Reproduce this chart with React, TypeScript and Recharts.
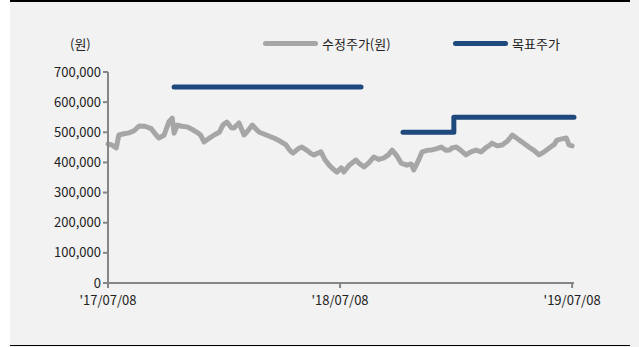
import { LineChart, Line, XAxis, YAxis, Legend } from 'recharts'

// days since 2017-07-08
const PRICE_DAYS = [
  0, 6, 13, 17, 25, 33, 41, 49, 58, 68, 76, 80, 88, 96, 101, 104, 109, 116, 124, 132,
  140, 146, 151, 159, 167, 175, 181, 187, 194, 198, 206, 214, 220, 227, 233, 238, 249, 256, 261, 271,
  280, 286, 291, 299, 305, 313, 319, 324, 335, 341, 348, 354, 360, 367, 371, 379, 390, 396, 403, 411,
  418, 426, 434, 441, 447, 455, 461, 470, 477, 481, 488, 494, 502, 508, 516, 524, 532, 537, 541, 548,
  555, 563, 571, 579, 587, 595, 599, 604, 612, 620, 628, 636, 642, 647, 655, 662, 670, 678, 686, 694,
  702, 706, 714, 721, 725, 730,
]
const PRICES = [
  461000, 458000, 448000, 491000, 495000, 498000, 505000, 521000, 520000, 512000, 490000, 481000, 490000, 535000, 547000, 497000, 524000, 520000, 518000, 510000,
  500000, 490000, 468000, 480000, 491000, 500000, 525000, 534000, 515000, 514000, 531000, 491000, 505000, 524000, 510000, 500000, 491000, 485000, 481000, 470000,
  458000, 440000, 431000, 445000, 451000, 440000, 430000, 425000, 435000, 410000, 391000, 378000, 368000, 382000, 368000, 390000, 408000, 395000, 385000, 400000,
  418000, 410000, 415000, 425000, 441000, 420000, 398000, 391000, 395000, 375000, 405000, 435000, 440000, 441000, 445000, 451000, 440000, 441000, 448000, 451000,
  440000, 425000, 435000, 441000, 435000, 450000, 455000, 464000, 455000, 458000, 470000, 491000, 482000, 474000, 462000, 451000, 440000, 425000, 435000, 448000,
  460000, 474000, 478000, 481000, 458000, 455000,
]

// target price steps
const TARGET_DAYS = [104, 398, null, 464, 544, 544, 733]
const TARGETS = [650000, 650000, null, 500000, 500000, 550000, 550000]

const X_TICKS = [0, 365, 730]
const X_LABELS = ["'17/07/08", "'18/07/08", "'19/07/08"]
const Y_TICKS = [0, 100000, 200000, 300000, 400000, 500000, 600000, 700000]

const SERIES = [
  { name: '수정주가(원)', color: '#a6a6a6' },
  { name: '목표주가', color: '#1f497d' },
]

const priceData = PRICE_DAYS.map((d, i) => ({ day: d, price: PRICES[i] }))
const targetData = TARGET_DAYS.map((d, i) => ({ day: d, target: TARGETS[i] }))

const FONT = '"Noto Sans CJK KR", "Noto Sans", sans-serif'

function LegendBox() {
  return (
    <div style={{ position: 'relative', height: 0 }}>
      <span style={{ position: 'absolute', left: 60, top: -13, fontSize: 13, color: '#222' }}>(원)</span>
      {SERIES.map((s, i) => (
        <div key={s.name} style={{ position: 'absolute', left: 253 + i * 190, top: -13, display: 'flex', alignItems: 'center' }}>
          <span style={{ width: 55, height: 5, borderRadius: 3, background: s.color, display: 'inline-block', marginRight: 4 }} />
          <span style={{ fontSize: 13, color: '#222' }}>{s.name}</span>
        </div>
      ))}
    </div>
  )
}

export default function App() {
  return (
    <div style={{ position: 'absolute', left: 0, top: 0, width: 639, height: 347, background: '#fff', fontFamily: FONT }}>
      <div style={{ position: 'absolute', left: 10, top: 0, width: 629, height: 347, background: '#f2f2f2' }} />
      <div style={{ position: 'absolute', left: 10, top: 0, width: 620, height: 2, background: '#000' }} />
      <div style={{ position: 'absolute', left: 10, top: 345, width: 620, height: 1, background: '#000' }} />
      <div style={{ position: 'absolute', left: 10, top: 0 }}>
        <LineChart width={610} height={320} margin={{ top: 72, right: 46, bottom: 0, left: 0 }}>
          <XAxis
            dataKey="day"
            type="number"
            domain={[0, 730]}
            ticks={X_TICKS}
            tickFormatter={(v) => X_LABELS[X_TICKS.indexOf(v)]}
            axisLine={{ stroke: '#868686', strokeWidth: 2 }}
            tickLine={{ stroke: '#868686', strokeWidth: 2 }}
            tickSize={5}
            tickMargin={8}
            tick={{ fontSize: 13, fill: '#222', fontFamily: FONT }}
            height={37}
            allowDuplicatedCategory={false}
          />
          <YAxis
            type="number"
            domain={[0, 700000]}
            ticks={Y_TICKS}
            tickFormatter={(v) => v.toLocaleString('en-US')}
            axisLine={{ stroke: '#868686', strokeWidth: 2 }}
            tickLine={{ stroke: '#868686', strokeWidth: 2 }}
            tickSize={5}
            tick={{ fontSize: 13, fill: '#222', fontFamily: FONT }}
            width={98}
          />
          <Legend verticalAlign="top" content={() => <LegendBox />} wrapperStyle={{ top: 47, left: 0 }} />
          <Line
            data={priceData}
            dataKey="price"
            name={SERIES[0].name}
            stroke={SERIES[0].color}
            strokeWidth={5}
            strokeLinecap="round"
            strokeLinejoin="round"
            dot={false}
            type="linear"
            isAnimationActive={false}
          />
          <Line
            data={targetData}
            dataKey="target"
            name={SERIES[1].name}
            stroke={SERIES[1].color}
            strokeWidth={5}
            strokeLinecap="round"
            strokeLinejoin="round"
            dot={false}
            type="linear"
            connectNulls={false}
            isAnimationActive={false}
          />
        </LineChart>
      </div>
    </div>
  )
}
